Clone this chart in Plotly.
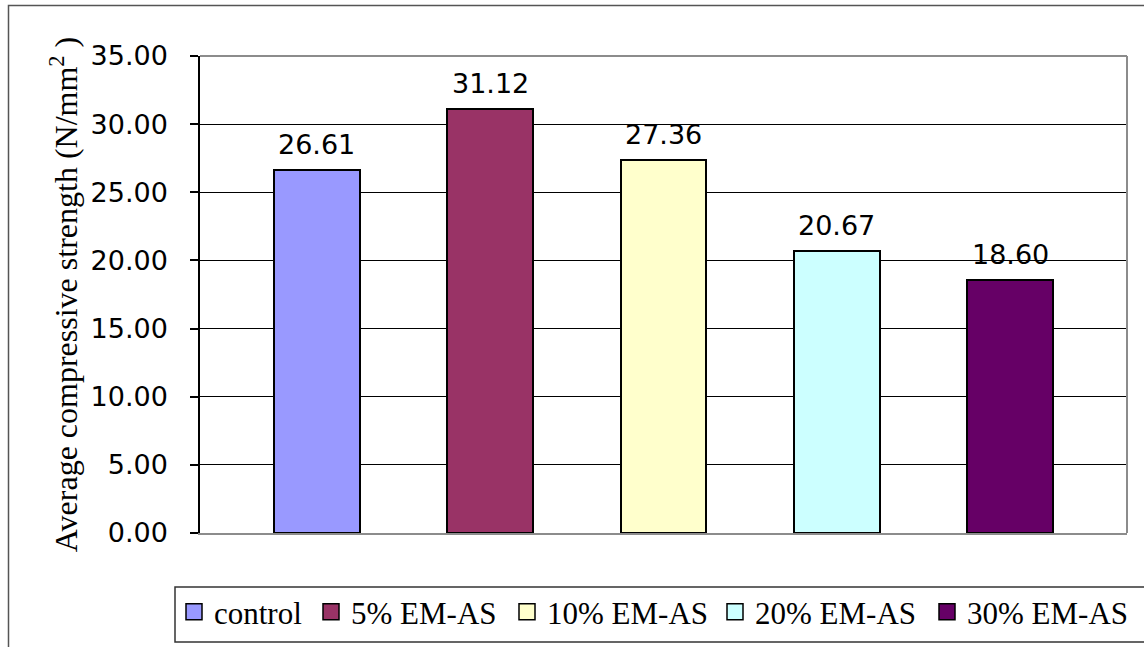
import plotly.graph_objects as go

categories = ["control", "5% EM-AS", "10% EM-AS", "20% EM-AS", "30% EM-AS"]
strength = [26.61, 31.12, 27.36, 20.67, 18.60]
bar_colors = ["#9999FF", "#993366", "#FFFFCC", "#CCFFFF", "#660066"]
y_ticks = [0, 5, 10, 15, 20, 25, 30, 35]
y_tick_labels = ["%.2f" % v for v in y_ticks]
legend_text_widths = [92, 151, 163, 167, 167]

W, H = 1144, 647
L, R, T, B = 200, 1127, 56, 533  # plot area in px


def px_x(px):
    return (px - L) / (R - L)


def px_y(py):
    return (B - py) / (B - T)


fig = go.Figure()
for i, (cat, val, col) in enumerate(zip(categories, strength, bar_colors)):
    fig.add_trace(go.Bar(
        x=[i], y=[val], name=cat, width=0.496, legendgroup=cat, showlegend=False,
        marker=dict(color=col, line=dict(color="black", width=2)),
        hoverinfo="name+y",
    ))
    fig.add_annotation(
        x=i, y=val, text="%.2f" % val, showarrow=False,
        yanchor="bottom", yshift=8,
        font=dict(family="DejaVu Sans", size=27, color="black"),
    )
# legend entries (square keys)
for cat, col, lw in zip(categories, bar_colors, legend_text_widths):
    fig.add_trace(go.Scatter(
        x=[None], y=[None], mode="markers", name=cat, legendgroup=cat,
        legendwidth=lw,
        marker=dict(symbol="square", size=16, color=col,
                    line=dict(color="black", width=1.5)),
    ))

shapes = [
    dict(type="line", xref="paper", yref="paper", x0=0, x1=1, y0=1, y1=1,
         line=dict(color="#8c8c8c", width=2), layer="above"),
    dict(type="line", xref="paper", yref="paper", x0=1, x1=1, y0=0, y1=1,
         line=dict(color="#8c8c8c", width=2), layer="above"),
    dict(type="rect", xref="paper", yref="paper",
         x0=px_x(175), x1=px_x(1160), y0=px_y(587), y1=px_y(642),
         line=dict(color="#333333", width=1.5), fillcolor="rgba(0,0,0,0)"),
    dict(type="rect", xref="paper", yref="paper",
         x0=px_x(8.5), x1=px_x(1170), y0=px_y(5.5), y1=px_y(670),
         line=dict(color="#555555", width=1.5), fillcolor="rgba(0,0,0,0)"),
]

fig.update_layout(
    width=W, height=H,
    margin=dict(l=L, r=W - R, t=T, b=H - B, pad=0, autoexpand=False),
    paper_bgcolor="white", plot_bgcolor="white",
    bargap=0,
    showlegend=True,
    legend=dict(
        orientation="h", x=px_x(174), xanchor="left", y=px_y(585), yanchor="top",
        font=dict(family="Liberation Serif", size=31, color="black"),
        bgcolor="rgba(0,0,0,0)", borderwidth=0, traceorder="normal",
        itemclick=False, itemdoubleclick=False,
    ),
    shapes=shapes,
    xaxis=dict(
        range=[-0.675, 4.675], showticklabels=False, ticks="",
        showgrid=False, zeroline=False,
        showline=True, linecolor="#8c8c8c", linewidth=2,
    ),
    yaxis=dict(
        range=[0, 35], tickvals=y_ticks, ticktext=y_tick_labels,
        ticks="outside", ticklen=8, tickcolor="black", tickwidth=1.5,
        ticklabelstandoff=17,
        tickfont=dict(family="DejaVu Sans", size=27, color="black"),
        showgrid=True, gridcolor="black", gridwidth=1.2,
        zeroline=False, showline=True, linecolor="black", linewidth=1.5,
        title=dict(
            text="Average compressive strength (N/mm<sup>2</sup> )",
            font=dict(family="Liberation Serif", size=32, color="black"),
            standoff=3,
        ),
    ),
)

fig.write_html(
    "out.html",
    config={"displayModeBar": False},
    post_script="document.body.style.margin='0';document.body.style.overflow='hidden';",
)
